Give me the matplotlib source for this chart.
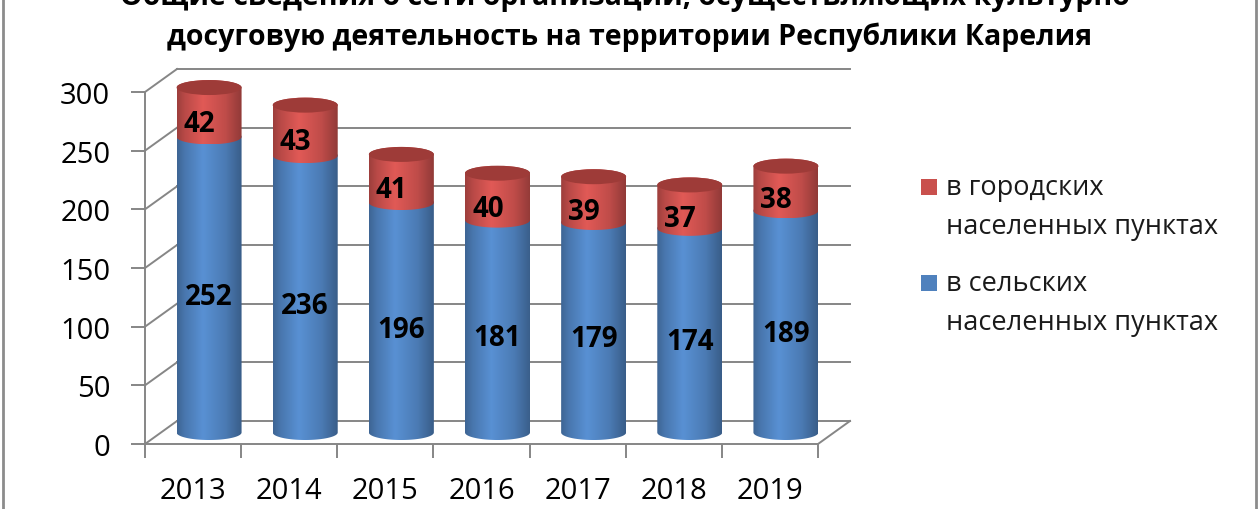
import matplotlib.pyplot as plt
import numpy as np
from matplotlib.path import Path
from matplotlib.patches import PathPatch, Ellipse, Rectangle
from matplotlib.lines import Line2D
import matplotlib.colors as mcolors

plt.rcParams['font.family'] = ['Open Sans', 'DejaVu Sans']

years = ['2013', '2014', '2015', '2016', '2017', '2018', '2019']
rural = [252, 236, 196, 181, 179, 174, 189]
urban = [42, 43, 41, 40, 39, 37, 38]
name_urban = 'в городских\nнаселенных пунктах'
name_rural = 'в сельских\nнаселенных пунктах'
title_lines = ['Общие сведения о сети организаций, осуществляющих культурно-',
               'досуговую деятельность на территории Республики Карелия']
yticks = [0, 50, 100, 150, 200, 250, 300]

BLUE = '#4F81BD'
RED = '#C9504D'
RED_TOP = '#9E3B38'
GRID = '#868686'

W, H = 1260, 510
fig = plt.figure(figsize=(W / 100, H / 100), dpi=100)

# front axis box in pixels (from top-left)
x0_px, x1_px = 145, 818
y0_px, ytop_px = 445, 93
n = len(years)
ppx = (x1_px - x0_px) / n
ppy = (y0_px - ytop_px) / 300.0
xlo, xhi = -0.6, 8.0
ylo, yhi = -40, 345
ax = fig.add_axes([(x0_px + xlo * ppx) / W,
                   (H - (y0_px - ylo * ppy)) / H,
                   (xhi - xlo) * ppx / W,
                   (yhi - ylo) * ppy / H])
ax.patch.set_visible(False)

# depth offset of the back wall
dx = 32 / ppx
dy = 23 / ppy

# back wall grid + left wall diagonals
for v in yticks:
    ax.plot([dx, n + dx], [v + dy, v + dy], color=GRID, lw=1.4, zorder=1)
    ax.plot([0, dx], [v, v + dy], color=GRID, lw=1.4, zorder=1)
ax.plot([n, n + dx], [0, dy], color=GRID, lw=1.4, zorder=1)


def shade(color, t):
    base = np.array(mcolors.to_rgb(color))
    f = np.interp(t, [0, 0.12, 0.4, 0.75, 1], [0.78, 0.92, 1.12, 0.95, 0.72])
    return np.clip(base[None, :] * f[:, None], 0, 1)


def cylinder(xc, w, yb, yt, eh, color, z, top=None):
    th1 = np.linspace(np.pi, 2 * np.pi, 80)
    th2 = np.linspace(0, np.pi, 80)
    xs = np.concatenate([xc + w / 2 * np.cos(th1), xc + w / 2 * np.cos(th2)])
    ys = np.concatenate([yb + eh * np.sin(th1), yt + eh * np.sin(th2)])
    verts = np.column_stack([xs, ys])
    patch = PathPatch(Path(np.vstack([verts, verts[:1]]), closed=True),
                      fc='none', ec='none', transform=ax.transData)
    ax.add_patch(patch)
    t = np.linspace(0, 1, 200)
    img = shade(color, t)[None, :, :]
    im = ax.imshow(img, extent=[xc - w / 2, xc + w / 2, yb - eh, yt + eh],
                   aspect='auto', interpolation='bilinear', zorder=z)
    im.set_clip_path(patch)
    if top is not None:
        ax.add_patch(Ellipse((xc, yt), w, 2 * eh, fc=top, ec='none', zorder=z + 0.5))


w = 65 / ppx
eh = 7.5 / ppy
for i in range(n):
    xc = i + 0.5 + dx / 2
    base = dy / 2
    cylinder(xc, w, base, base + rural[i], eh, BLUE, 3 + i)
    cylinder(xc, w, base + rural[i], base + rural[i] + urban[i], eh, RED, 3.2 + i, top=RED_TOP)
    ax.text(xc, rural[i] / 2, str(rural[i]), ha='center', va='center',
            fontsize=20, fontweight='bold', zorder=20)
    ax.text(xc - 0.1, rural[i] + urban[i] / 2, str(urban[i]), ha='center', va='center',
            fontsize=20, fontweight='bold', zorder=20)

# axes
ax.set_xlim(xlo, xhi)
ax.set_ylim(ylo, yhi)
for s in ['top', 'right']:
    ax.spines[s].set_visible(False)
ax.spines['left'].set_position(('data', 0))
ax.spines['left'].set_bounds(0, 300)
ax.spines['bottom'].set_position(('data', 0))
ax.spines['bottom'].set_bounds(0, n)
for s in ['left', 'bottom']:
    ax.spines[s].set_color(GRID)
    ax.spines[s].set_linewidth(1.4)
ax.set_yticks(yticks)
ax.set_xticks(range(n + 1))
ax.set_xticklabels([])
ax.set_xticks([i + 0.5 for i in range(n)], minor=True)
ax.set_xticklabels(years, minor=True)
ax.tick_params(axis='both', which='major', direction='out', length=10, width=1.4,
               color=GRID, labelsize=21, labelcolor='black')
ax.tick_params(axis='y', pad=15)
ax.tick_params(axis='x', which='minor', length=0, pad=23, labelsize=21)

# legend (drawn by hand so the box sits on the first line)
for k, (name, col) in enumerate([(name_urban, RED), (name_rural, BLUE)]):
    ytxt = 188 + k * 96
    fig.add_artist(Rectangle((921 / W, 1 - (ytxt + 8) / H), 16 / W, 16 / H,
                             transform=fig.transFigure, fc=col, ec='none'))
    for j, line in enumerate(name.split('\n')):
        fig.text(946 / W, 1 - (ytxt + j * 39) / H, line, ha='left', va='center',
                 fontsize=19.5, color='#1a1a1a')

# title, top line cut by the frame like in the source
for j, line in enumerate(title_lines):
    fig.text(0.5, 1 - (5 + j * 40) / H, line, ha='center', va='baseline',
             fontsize=20.5, fontweight='bold')

# outer frame
for xf in [3, 1256]:
    fig.add_artist(Line2D([xf / W, xf / W], [0, 1], transform=fig.transFigure,
                          color='#8c8c8c', lw=2))

fig.savefig('out.png', dpi=100)
